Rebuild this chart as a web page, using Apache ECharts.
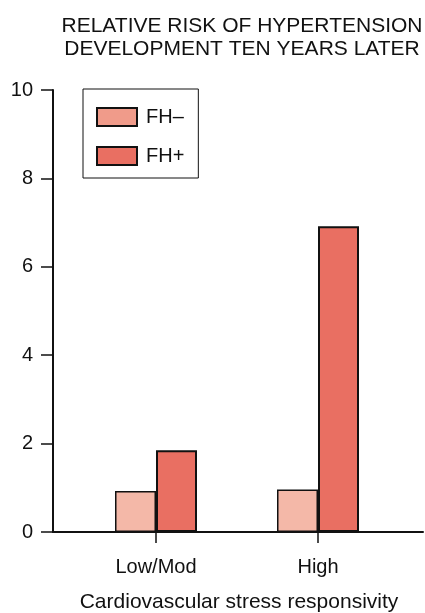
<!DOCTYPE html>
<html>
<head>
<meta charset="utf-8">
<script src="https://cdn.jsdelivr.net/npm/echarts@6/dist/echarts.min.js"></script>
<style>
  html, body { margin: 0; padding: 0; background: #fff; }
  #chart { width: 425px; height: 613px; }
</style>
</head>
<body>
<div id="chart"></div>
<script>
// 数据
const categories = ['Low/Mod', 'High'];
const fhMinus = [0.93, 0.96];
const fhPlus = [1.85, 6.92];
const yTicks = [0, 2, 4, 6, 8, 10];

const FONT = '"Liberation Sans", Arial, sans-serif';
const chart = echarts.init(document.getElementById('chart'), null, { renderer: 'canvas' });

chart.setOption({
  backgroundColor: '#fff',
  animation: false,
  title: {
    text: 'RELATIVE RISK OF HYPERTENSION\nDEVELOPMENT TEN YEARS LATER',
    left: 237,
    top: 10,
    textAlign: 'center',
    textStyle: { fontFamily: FONT, fontSize: 21, fontWeight: 'normal', color: '#111', lineHeight: 23 },
  },
  legend: {
    orient: 'vertical',
    left: 83,
    top: 89,
    padding: [18, 14, 12, 13],
    borderColor: '#111',
    borderWidth: 1,
    itemWidth: 40,
    itemHeight: 18,
    itemGap: 19,
    textStyle: { fontFamily: FONT, fontSize: 20, color: '#111', padding: [0, 0, 0, 4] },
    data: [
      { name: 'FH–', icon: 'rect', itemStyle: { color: '#f09b8a', borderColor: '#111', borderWidth: 2 } },
      { name: 'FH+', icon: 'rect', itemStyle: { color: '#e96f62', borderColor: '#111', borderWidth: 2 } },
    ],
  },
  grid: [
    // 坐标轴用
    { left: 53, right: 2, top: 90, bottom: 81, containLabel: false, outerBoundsMode: 'none' },
    // 柱子用
    { left: 75, width: 324, top: 90, bottom: 81, containLabel: false, outerBoundsMode: 'none' },
  ],
  xAxis: [
    {
      gridIndex: 0, type: 'value', min: 0, max: 1,
      axisLine: { show: true, lineStyle: { color: '#111', width: 2 } },
      axisTick: { show: false }, axisLabel: { show: false }, splitLine: { show: false },
    },
    {
      gridIndex: 1, type: 'category', data: categories,
      axisLine: { show: false },
      axisTick: { show: true, alignWithLabel: true, length: 11, lineStyle: { color: '#111', width: 1.5 } },
      axisLabel: { fontFamily: FONT, fontSize: 20, color: '#111', margin: 25 },
      name: 'Cardiovascular stress responsivity',
      nameLocation: 'middle',
      nameGap: 60,
      nameTextStyle: { fontFamily: FONT, fontSize: 21, color: '#111', padding: [0, 0, 0, 4] },
    },
  ],
  yAxis: [
    {
      gridIndex: 0, type: 'value', min: yTicks[0], max: yTicks[yTicks.length - 1], interval: 2,
      axisLine: { show: true, lineStyle: { color: '#111', width: 2 } },
      axisTick: { show: true, length: 12, lineStyle: { color: '#111', width: 1.5 } },
      axisLabel: { fontFamily: FONT, fontSize: 20, color: '#111', margin: 20 },
      splitLine: { show: false },
    },
    {
      gridIndex: 1, type: 'value', min: 0, max: 10,
      show: false, splitLine: { show: false },
    },
  ],
  series: [
    {
      name: 'FH–', type: 'bar', xAxisIndex: 1, yAxisIndex: 1,
      data: fhMinus, barWidth: 41, barGap: '0%',
      itemStyle: { color: '#f4b8a8', borderColor: '#111', borderWidth: 1.5 },
    },
    {
      name: 'FH+', type: 'bar', xAxisIndex: 1, yAxisIndex: 1,
      data: fhPlus, barWidth: 41, barGap: '0%',
      itemStyle: { color: '#e96f62', borderColor: '#111', borderWidth: 2 },
    },
  ],
});
</script>
</body>
</html>
